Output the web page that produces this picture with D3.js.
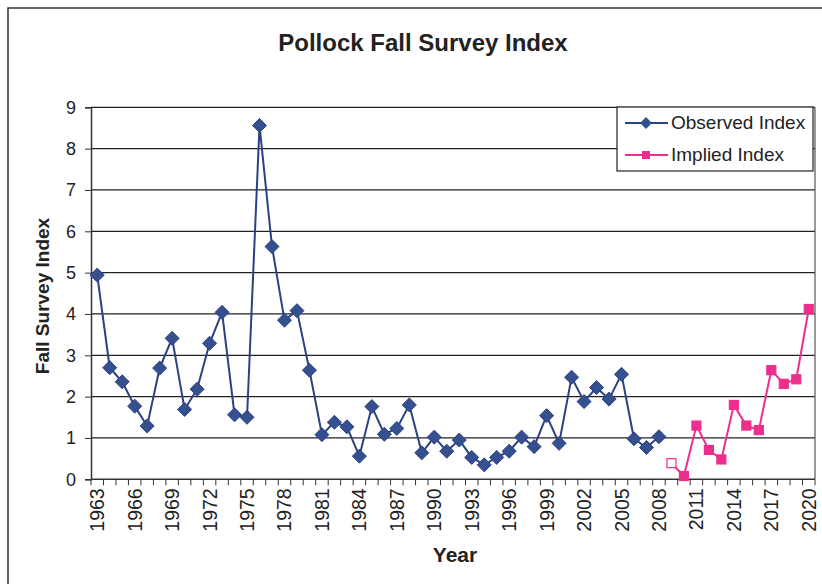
<!DOCTYPE html>
<html>
<head>
<meta charset="utf-8">
<script src="https://cdn.jsdelivr.net/npm/d3@7"></script>
<style>
  body { margin: 0; background: #fff; }
  svg { display: block; font-family: "Liberation Sans", Arial, sans-serif; }
</style>
</head>
<body>
<svg id="chart" width="822" height="584"></svg>
<script>
// observed survey index, 1963-2008
var obsYears = d3.range(1963, 2009)
var obsValues = [4.94, 2.70, 2.36, 1.77, 1.29, 2.69, 3.41, 1.69, 2.18, 3.29,
    4.04, 1.56, 1.50, 8.56, 5.63, 3.85, 4.08, 2.64, 1.08, 1.38,
    1.27, 0.56, 1.76, 1.09, 1.23, 1.80, 0.64, 1.02, 0.68, 0.95,
    0.53, 0.35, 0.53, 0.68, 1.02, 0.79, 1.54, 0.87, 2.47, 1.88,
    2.22, 1.94, 2.54, 0.98, 0.77, 1.03]
// implied index, 2009-2020 (2009 drawn hollow)
var impYears = d3.range(2009, 2021)
var impValues = [0.39, 0.08, 1.30, 0.71, 0.48, 1.80, 1.30, 1.19, 2.64, 2.31, 2.42, 4.12]
var allYears = d3.range(1963, 2021)
var yTicks = d3.range(0, 10)
var xLabelYears = d3.range(1963, 2021, 3)

var obsColor = "#2c4184"
var impColor = "#ec2f8c"

function draw_chart() {
    var svg = d3.select("#chart")
    var pLeft = 91, pRight = 815, pTop = 107.3, pBottom = 479.3

    svg.append("rect").attr("width", 822).attr("height", 584).attr("fill", "#fff")
    // outer chart frame
    svg.append("path").attr("d", "M8,584V8H822")
        .attr("fill", "none").attr("stroke", "#333").attr("stroke-width", 1.5)

    svg.append("text")
        .attr("x", 423).attr("y", 51)
        .attr("text-anchor", "middle")
        .style("font-size", "24px").style("font-weight", "bold")
        .attr("fill", "#222")
        .text("Pollock Fall Survey Index")

    var x = d3.scaleBand().domain(allYears).range([pLeft, pRight])
    var y = d3.scaleLinear().domain([0, 9]).range([pBottom, pTop])
    var cx = yr => x(yr) + x.bandwidth() / 2

    // gridlines
    svg.append("g").selectAll("line")
        .data(yTicks.filter(d => d > 0))
        .join("line")
        .attr("x1", pLeft).attr("x2", pRight)
        .attr("y1", d => y(d)).attr("y2", d => y(d))
        .attr("stroke", "#222").attr("stroke-width", 1.2)

    // right edge of plot area
    svg.append("line")
        .attr("x1", pRight).attr("x2", pRight).attr("y1", pTop).attr("y2", pBottom)
        .attr("stroke", "#555").attr("stroke-width", 1.2)

    // y axis
    var yAxis = svg.append("g")
        .attr("transform", "translate(" + pLeft + ",0)")
        .call(d3.axisLeft(y).tickValues(yTicks).tickSize(6).tickPadding(9).tickFormat(d3.format("d")))
    yAxis.select(".domain").attr("stroke", "#333").attr("stroke-width", 1.5)
    yAxis.selectAll(".tick line").attr("stroke", "#333")
    yAxis.selectAll("text").style("font-size", "18px").attr("fill", "#222")
        .style("font-family", "Liberation Sans, Arial, sans-serif")

    // x axis: tick at every category boundary
    svg.append("line")
        .attr("x1", pLeft).attr("x2", pRight).attr("y1", pBottom).attr("y2", pBottom)
        .attr("stroke", "#333").attr("stroke-width", 1.5)
    svg.append("g").selectAll("line")
        .data(allYears.concat([2021]))
        .join("line")
        .attr("x1", d => d === 2021 ? pRight : x(d))
        .attr("x2", d => d === 2021 ? pRight : x(d))
        .attr("y1", pBottom).attr("y2", pBottom + 6)
        .attr("stroke", "#333")
    svg.append("g").selectAll("text")
        .data(xLabelYears)
        .join("text")
        .attr("transform", d => "translate(" + (cx(d) + 7) + "," + (pBottom + 9) + ") rotate(-90)")
        .attr("text-anchor", "end")
        .style("font-size", "19.5px").attr("fill", "#222")
        .text(d => d)

    // axis titles
    svg.append("text")
        .attr("transform", "translate(49,296) rotate(-90)")
        .attr("text-anchor", "middle")
        .style("font-size", "19px").style("font-weight", "bold").attr("fill", "#222")
        .text("Fall Survey Index")
    svg.append("text")
        .attr("x", 455).attr("y", 562)
        .attr("text-anchor", "middle")
        .style("font-size", "21px").style("font-weight", "bold").attr("fill", "#222")
        .text("Year")

    // series
    var obs = obsYears.map((d, i) => ({ year: d, value: obsValues[i] }))
    var imp = impYears.map((d, i) => ({ year: d, value: impValues[i] }))
    var line = d3.line().x(d => cx(d.year)).y(d => y(d.value))

    svg.append("path").datum(obs).attr("d", line)
        .attr("fill", "none").attr("stroke", obsColor).attr("stroke-width", 2)
    svg.append("g").selectAll("path")
        .data(obs)
        .join("path")
        .attr("transform", d => "translate(" + cx(d.year) + "," + y(d.value) + ")")
        .attr("d", d3.symbol(d3.symbolDiamond2, 125))
        .attr("fill", "#34508f").attr("stroke", obsColor).attr("stroke-width", 1)

    svg.append("path").datum(imp).attr("d", line)
        .attr("fill", "none").attr("stroke", impColor).attr("stroke-width", 2)
    svg.append("g").selectAll("rect")
        .data(imp)
        .join("rect")
        .attr("x", d => cx(d.year) - 4.5).attr("y", d => y(d.value) - 4.5)
        .attr("width", 9).attr("height", 9)
        .attr("fill", (d, i) => i === 0 ? "#fff" : impColor)
        .attr("stroke", impColor).attr("stroke-width", 1.2)

    // legend
    var legend = svg.append("g")
    legend.append("rect")
        .attr("x", 617).attr("y", 107).attr("width", 196).attr("height", 64)
        .attr("fill", "#fff").attr("stroke", "#222").attr("stroke-width", 1.2)
    var legendItems = [
        { name: "Observed Index", color: obsColor, shape: "diamond" },
        { name: "Implied Index", color: impColor, shape: "square" }
    ]
    var item = legend.selectAll(".item")
        .data(legendItems)
        .join("g")
        .attr("class", "item")
        .attr("transform", (d, i) => "translate(0," + (123 + i * 32) + ")")
    item.append("line")
        .attr("x1", 625).attr("x2", 668)
        .attr("stroke", d => d.color).attr("stroke-width", 2)
    item.filter(d => d.shape === "diamond").append("path")
        .attr("transform", "translate(646,0)")
        .attr("d", d3.symbol(d3.symbolDiamond2, 90))
        .attr("fill", "#34508f")
    item.filter(d => d.shape === "square").append("rect")
        .attr("x", 642).attr("y", -4).attr("width", 8).attr("height", 8)
        .attr("fill", impColor)
    item.append("text")
        .attr("x", 671).attr("y", 6)
        .style("font-size", "19px").attr("fill", "#222")
        .text(d => d.name)
}

draw_chart()
</script>
</body>
</html>
